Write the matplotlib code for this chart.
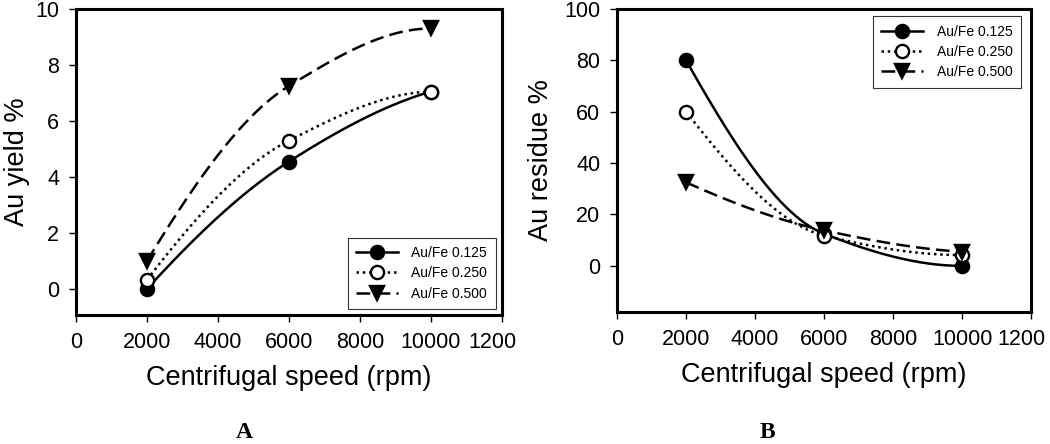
import numpy as np
import matplotlib
matplotlib.use("Agg")
import matplotlib.pyplot as plt
from matplotlib.lines import Line2D
from matplotlib.transforms import ScaledTranslation

plt.rcParams['font.family'] = ['Liberation Sans', 'DejaVu Sans']

# data
speed = [2000, 6000, 10000]
series_names = ['Au/Fe 0.125', 'Au/Fe 0.250', 'Au/Fe 0.500']
yield_125 = [0.0, 4.55, 7.05]
yield_250 = [0.33, 5.3, 7.05]
yield_500 = [1.0, 7.25, 9.3]
residue_125 = [80.0, 12.5, 0.0]
residue_250 = [60.0, 11.8, 4.2]
residue_500 = [32.5, 13.8, 5.5]

xticks = [0, 2000, 4000, 6000, 8000, 10000, 12000]
xticklabels = ['0', '2000', '4000', '6000', '8000', '10000', '1200']


def pchip(x, y, n=80):
    # smooth monotone curve through the points (like the SigmaPlot spline)
    x = np.asarray(x, float)
    y = np.asarray(y, float)
    h = np.diff(x)
    d = np.diff(y) / h
    m = np.zeros_like(y)
    for k in range(1, len(x) - 1):
        if d[k - 1] * d[k] > 0:
            w1 = 2 * h[k] + h[k - 1]
            w2 = h[k] + 2 * h[k - 1]
            m[k] = (w1 + w2) / (w1 / d[k - 1] + w2 / d[k])
    for i, (a, b, hh0, hh1) in ((0, (d[0], d[1], h[0], h[1])), (-1, (d[-1], d[-2], h[-1], h[-2]))):
        e = ((2 * hh0 + hh1) * a - hh0 * b) / (hh0 + hh1)
        if np.sign(e) != np.sign(a):
            e = 0.0
        elif np.sign(a) != np.sign(b) and abs(e) > 3 * abs(a):
            e = 3 * a
        m[i] = e
    xs, ys = [], []
    for k in range(len(x) - 1):
        t = np.linspace(0, 1, n)
        h00 = 2 * t**3 - 3 * t**2 + 1
        h10 = t**3 - 2 * t**2 + t
        h01 = -2 * t**3 + 3 * t**2
        h11 = t**3 - t**2
        xs.append(x[k] + t * h[k])
        ys.append(h00 * y[k] + h10 * h[k] * m[k] + h01 * y[k + 1] + h11 * h[k] * m[k + 1])
    return np.concatenate(xs), np.concatenate(ys)


styles = [
    dict(ls='-', marker='o', mfc='black'),
    dict(ls=(0, (1, 1.5)), marker='o', mfc='white'),
    dict(ls=(0, (5.5, 2.5)), marker='v', mfc='black'),
]

fig = plt.figure(figsize=(10.5, 4.44), dpi=100)
axA = fig.add_axes([0.0724, 0.2905, 0.4057, 0.6895])
axB = fig.add_axes([0.5876, 0.297, 0.3944, 0.683])
legend_bbox = {axA: (0.985, 0.02), axB: (0.975, 0.975)}


def draw(ax, data, ylim, yticks, ylabel, legend_loc, ylabelpad):
    for vals, st, name in zip(data, styles, series_names):
        sx, sy = pchip(speed, vals)
        ax.plot(sx, sy, color='black', lw=1.8, ls=st['ls'], zorder=2)
        ax.plot(speed, vals, ls='none', marker=st['marker'], ms=9.5,
                mfc=st['mfc'], mec='black', mew=1.7, zorder=3)
    ax.set_xlim(0, 12000)
    ax.set_ylim(*ylim)
    ax.set_xticks(xticks)
    ax.set_xticklabels(xticklabels)
    ax.set_yticks(yticks)
    ax.tick_params(direction='out', length=5, width=1, labelsize=15.5, pad=7)
    for sp in ax.spines.values():
        sp.set_linewidth(2.2)
    ax.set_xlabel('Centrifugal speed (rpm)', fontsize=19.5, labelpad=9)
    ax.set_ylabel(ylabel, fontsize=19.5, labelpad=ylabelpad)
    last = ax.get_xticklabels()[-1]
    last.set_transform(last.get_transform() + ScaledTranslation(-0.1, 0, fig.dpi_scale_trans))
    handles = [Line2D([], [], color='black', lw=1.8, ls=st['ls'], marker=st['marker'],
                      ms=9.5, mfc=st['mfc'], mec='black', mew=1.7) for st in styles]
    leg = ax.legend(handles, series_names, loc=legend_loc, fontsize=10, frameon=True,
                    fancybox=False, edgecolor='black', handlelength=3.0,
                    borderpad=0.6, labelspacing=0.45, handletextpad=1.0,
                    borderaxespad=0, bbox_to_anchor=legend_bbox[ax])
    leg.get_frame().set_linewidth(0.8)


draw(axA, [yield_125, yield_250, yield_500], (-0.93, 10), [0, 2, 4, 6, 8, 10],
     'Au yield %', 'lower right', 4)
draw(axB, [residue_125, residue_250, residue_500], (-18, 100), [0, 20, 40, 60, 80, 100],
     'Au residue %', 'upper right', 7)

fig.text(0.233, 0.014, 'A', fontsize=17, fontweight='bold', family='Liberation Serif', ha='center')
fig.text(0.731, 0.014, 'B', fontsize=17, fontweight='bold', family='Liberation Serif', ha='center')

fig.savefig('out.png', dpi=100)
